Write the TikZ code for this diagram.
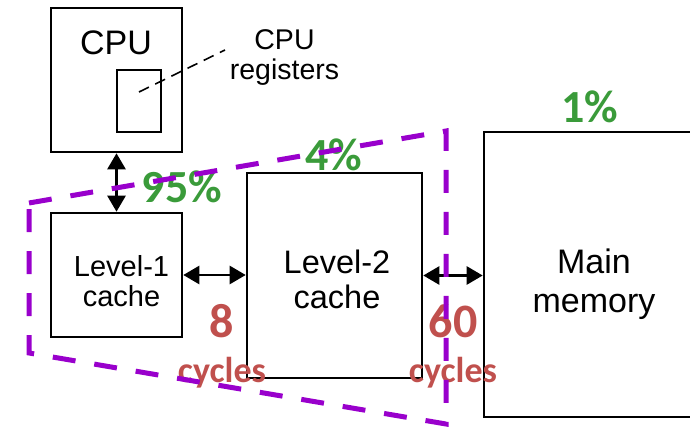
\documentclass[tikz,border=0pt]{standalone}
\usepackage{fontspec}
\setmainfont{Liberation Sans}
\newfontfamily\numfont{Carlito}
\usetikzlibrary{arrows.meta}
\definecolor{cpurple}{RGB}{153,0,204}
\definecolor{cgreen}{RGB}{58,155,58}
\definecolor{cred}{RGB}{192,80,77}
\tikzset{
  box/.style={draw=black, line width=2.6pt, fill=white, inner sep=0pt},
  txt/.style={inner sep=0pt, align=center},
  arr/.style={line width=2.6pt, {Triangle[width=18pt,length=16pt]}-{Triangle[width=18pt,length=16pt]}},
  pct/.style={inner sep=0pt, anchor=base, text=cgreen, font=\numfont\bfseries\fontsize{46}{48}\selectfont},
  cyc/.style={inner sep=0pt, anchor=base, text=cred, font=\numfont\bfseries\fontsize{48}{50}\selectfont},
  cycw/.style={inner sep=0pt, anchor=base, text=cred, font=\numfont\bfseries\fontsize{36}{38}\selectfont},
  region/.style={draw=cpurple, line width=5pt, dash pattern=on 23pt off 19pt},
  pointer/.style={draw=black, line width=1.6pt, dash pattern=on 11pt off 7pt}
}
\begin{document}
\begin{tikzpicture}[x=1pt,y=-1pt]
\useasboundingbox (0,0) rectangle (690,427);
\clip (0,0) rectangle (690,427);
% boxes
\node[box, minimum width=131pt, minimum height=144pt] (cpu) at (116.5,80) {};
\node[box, minimum width=44pt, minimum height=62pt] (reg) at (139,101) {};
\node[box, minimum width=131pt, minimum height=124pt] (l1) at (116.5,275) {};
\node[box, minimum width=175pt, minimum height=205pt] (l2) at (334.5,275.5) {};
\node[box, minimum width=216pt, minimum height=285pt] (mm) at (592,274.5) {};
% box texts
\node[txt, anchor=base, font=\fontsize{34}{36}\selectfont] (cput) at (116,55) {CPU};
\node[txt, font=\fontsize{28.5}{30}\selectfont] (regt) at (284.5,58) {CPU\\registers};
\node[txt, font=\fontsize{29}{30}\selectfont] (l1t) at (121.5,281.5) {Level-1\\cache};
\node[txt, font=\fontsize{32.5}{35}\selectfont] (l2t) at (337,279) {Level-2\\cache};
\node[txt, font=\fontsize{34}{39}\selectfont] (mmt) at (594,284) {Main\\memory};
% register pointer
\coordinate (regpt) at (139,92);
\coordinate (lblpt) at (225,50);
\draw[pointer] (regpt) -- (lblpt);
% connectors
\draw[arr] (cpu.south) -- (l1.north);
\draw[arr] (l1.east) -- (l1.east -| l2.west);
\draw[arr] (l2.east) -- (l2.east -| mm.west);
% labels
\node[pct] (p95) at (182,203) {95\%};
\node[pct] (p4) at (334,171) {4\%};
\node[pct] (p1) at (590,123) {1\%};
\node[cyc] (n8) at (222,337) {8};
\node[cycw] (cy8) at (222,382) {cycles};
\node[cyc] (n60) at (453,337) {60};
\node[cycw] (cy60) at (453,382) {cycles};
% cached region
\coordinate (ra) at (29,203);
\coordinate (rb) at (446,131);
\coordinate (rc) at (446,424);
\coordinate (rd) at (29,353);
\draw[region] (ra) -- (rb) -- (rc) -- (rd) -- cycle;
\end{tikzpicture}
\end{document}
